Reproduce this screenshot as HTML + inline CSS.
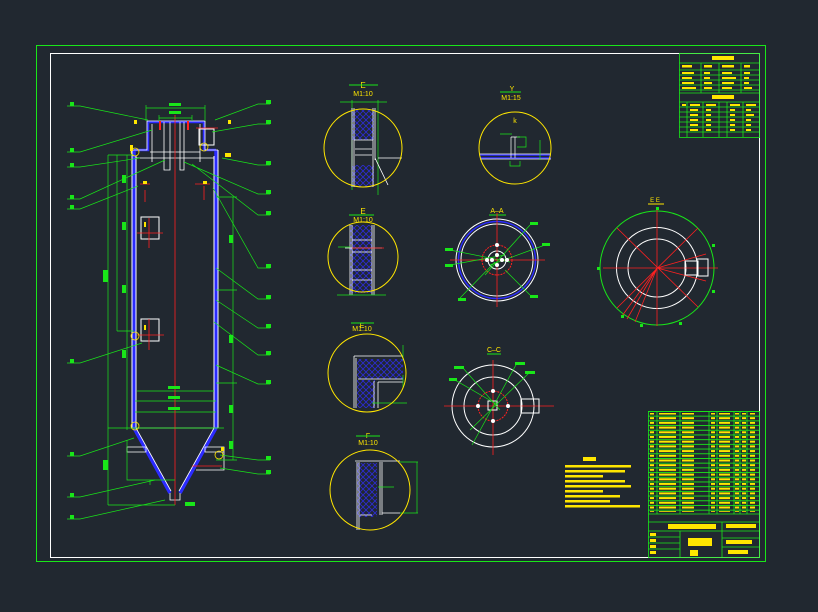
<!DOCTYPE html>
<html><head><meta charset="utf-8"><style>
html,body{margin:0;padding:0;background:#212830;}
svg{display:block;font-family:"Liberation Sans","Noto Sans CJK SC",sans-serif;}
</style></head><body>
<svg width="818" height="612" viewBox="0 0 818 612" xmlns="http://www.w3.org/2000/svg">
<defs>
<pattern id="rows" width="10" height="4.7" patternUnits="userSpaceOnUse" y="411"><rect width="10" height="0.9" fill="#19e619"/></pattern>
<pattern id="ytxt" width="10" height="4.7" patternUnits="userSpaceOnUse" y="412.5"><rect width="10" height="2" fill="#ffe600"/></pattern>
<pattern id="hatch" width="6" height="6" patternUnits="userSpaceOnUse"><path d="M0 0L6 6M6 0L0 6" stroke="#2b2bd6" stroke-width="0.8"/></pattern>
</defs>
<rect width="818" height="612" fill="#212830"/>
<rect x="36.5" y="45.5" width="729" height="516" fill="none" stroke="#19e619" stroke-width="1"/>
<rect x="50.5" y="53.5" width="709" height="504" fill="none" stroke="#fff" stroke-width="1"/>

<g fill="none">
<path d="M134 150 V428 M216 150 V428" stroke="#2b2bff" stroke-width="3.5"/>
<path d="M132 150 V428 M136 156 V428 M214 156 V428 M218 150 V428" stroke="#fff" stroke-width="1"/>
<path d="M134 150 H148 V122 H204 V150 H216" stroke="#2b2bff" stroke-width="2.5"/>
<path d="M132 150 H147 V121 H205 V150 H218 M136 158 H214" stroke="#fff" stroke-width="0.8"/>
<path d="M164 122 V170 H170 V122 M180 122 V170 H184 V122 M152 124 V162 M200 124 V162 M150 152 H200" stroke="#fff" stroke-width="0.8"/>
<rect x="199" y="129" width="15" height="16" stroke="#fff"/>
<path d="M134 428 L170 493 M216 428 L180 493" stroke="#2b2bff" stroke-width="3.5"/>
<path d="M136 428 L171 491 M214 428 L179 491 M133 428 H218 M170 493 V500 H180 V493" stroke="#fff" stroke-width="0.8"/>
<path d="M127 447 H146 V452 H127 Z M205 447 H224 V452 H205 Z M224 452 V470 H196" stroke="#fff" stroke-width="0.8"/>
<path d="M137 391 H214 M135 401 H216 M135 412 H216" stroke="#19e619" stroke-width="0.8"/>
<rect x="141" y="217" width="18" height="22" stroke="#fff"/>
<rect x="141" y="319" width="18" height="22" stroke="#fff"/>
<path d="M175 115 V505 M137 233 H163 M137 335 H164 M140 184 H150 M195 184 H210 M196 128 H218 M192 466 H222" stroke="#ff2020" stroke-width="0.8"/>
<path d="M149 218 V248 M149 319 V350 M145 190 V202 M204 186 V200" stroke="#ff2020" stroke-width="0.8"/>
<path d="M160 121 V130 M188 121 V130" stroke="#ff2020" stroke-width="2"/>
<path d="M146 105 V121 M205 105 V121 M146 108 H205 M159 115 V121 M192 115 V121 M159 118 H192" stroke="#19e619" stroke-width="0.7"/>
<path d="M108 155 V505 M117 155 V331 M127 155 V430 M108 155 H134 M108 505 H175 M117 331 H134 M108 428 H224" stroke="#19e619" stroke-width="0.7"/>
<path d="M233 197 V460 M216 197 H237 M216 290 H237 M216 383 H237 M216 460 H237" stroke="#19e619" stroke-width="0.7"/>
<path d="M127 440 V480 H175 M150 480 V485" stroke="#19e619" stroke-width="0.7"/>
<path d="M67 106 H80 L148 120 M67 152 H80 L152 130 M67 167 H80 L140 158 M67 199 H80 L165 160 M67 209 H80 L138 186 M67 363 H80 L142 343 M67 456 H80 L134 438 M67 497 H80 L155 480 M67 519 H80 L165 500" stroke="#19e619" stroke-width="0.7"/>
<path d="M270 104 H258 L215 120 M270 124 H258 L212 132 M270 165 H258 L222 158 M270 194 H258 L184 162 M270 215 H258 L192 164 M270 268 H258 L213 188 M270 299 H258 L216 268 M270 328 H258 L216 300 M270 355 H258 L214 322 M270 384 H258 L216 365 M270 460 H258 L220 455 M270 474 H258 L220 468" stroke="#19e619" stroke-width="0.7"/>
</g>
<g fill="#19e619">
<rect x="70" y="102" width="4" height="4"/><rect x="70" y="148" width="4" height="4"/><rect x="70" y="163" width="4" height="4"/><rect x="70" y="195" width="4" height="4"/><rect x="70" y="205" width="4" height="4"/><rect x="70" y="359" width="4" height="4"/><rect x="70" y="452" width="4" height="4"/><rect x="70" y="493" width="4" height="4"/><rect x="70" y="515" width="4" height="4"/>
<rect x="266" y="100" width="5" height="4"/><rect x="266" y="120" width="5" height="4"/><rect x="266" y="161" width="5" height="4"/><rect x="266" y="190" width="5" height="4"/><rect x="266" y="211" width="5" height="4"/><rect x="266" y="264" width="5" height="4"/><rect x="266" y="295" width="5" height="4"/><rect x="266" y="324" width="5" height="4"/><rect x="266" y="351" width="5" height="4"/><rect x="266" y="380" width="5" height="4"/><rect x="266" y="456" width="5" height="4"/><rect x="266" y="470" width="5" height="4"/>
<rect x="169" y="103" width="12" height="3"/><rect x="169" y="111" width="12" height="3"/><rect x="168" y="386" width="12" height="3"/><rect x="168" y="396" width="12" height="3"/><rect x="168" y="407" width="12" height="3"/>
<rect x="103" y="270" width="5" height="12"/><rect x="122" y="175" width="4" height="8"/><rect x="122" y="222" width="4" height="8"/><rect x="122" y="285" width="4" height="8"/><rect x="122" y="350" width="4" height="8"/><rect x="229" y="235" width="4" height="8"/><rect x="229" y="335" width="4" height="8"/><rect x="229" y="405" width="4" height="8"/><rect x="229" y="441" width="4" height="8"/><rect x="103" y="460" width="5" height="10"/><rect x="185" y="502" width="10" height="4"/>
</g>
<g fill="#ffe600"><rect x="130" y="145" width="3" height="6"/><rect x="143" y="181" width="4" height="3"/><rect x="203" y="181" width="4" height="3"/><rect x="144" y="222" width="2" height="5"/><rect x="144" y="325" width="2" height="5"/><rect x="225" y="153" width="6" height="4"/><rect x="221" y="447" width="3" height="4"/><rect x="134" y="120" width="3" height="4"/><rect x="228" y="120" width="3" height="4"/></g>
<g fill="none" stroke="#ffe600" stroke-width="0.8"><circle cx="135" cy="152" r="4"/><circle cx="204" cy="147" r="4"/><circle cx="135" cy="336" r="4"/><circle cx="135" cy="426" r="4"/><circle cx="219" cy="455" r="4"/></g>

<g fill="none">
<text x="363" y="88" fill="#ffe600" font-size="8" text-anchor="middle">E</text>
<path d="M349 85 H378" stroke="#19e619"/>
<text x="363" y="96" fill="#ffe600" font-size="7" text-anchor="middle">M1:10</text>
<path d="M340 102 H387 M352 100 V190 M378 100 V195" stroke="#19e619" stroke-width="0.7"/>
<rect x="352" y="110" width="22" height="30" fill="url(#hatch)"/>
<rect x="352" y="165" width="22" height="22" fill="url(#hatch)"/>
<path d="M352 108 V187 M354 108 V187 M373 108 V187 M375 108 V160 M354 140 H373 M355 149 H372 M355 155 H372 M375 158 L388 185 M378 158 H402" stroke="#fff" stroke-width="0.8"/>
<circle cx="363" cy="148" r="39" stroke="#ffe600"/>
</g>
<g fill="none">
<text x="512" y="91" fill="#ffe600" font-size="7" text-anchor="middle">Y</text>
<path d="M500 92 H521" stroke="#19e619"/>
<text x="511" y="100" fill="#ffe600" font-size="7" text-anchor="middle">M1:15</text>
<text x="515" y="123" fill="#ffe600" font-size="7" text-anchor="middle">k</text>
<path d="M480 155 H551 M480 158 H551" stroke="#2b2bff" stroke-width="1.5"/>
<path d="M480 154 H551 M480 159 H551 M511 137 V158 M515 137 V158 M511 137 H520" stroke="#fff" stroke-width="0.7"/>
<path d="M500 134 H512 M517 137 H526 V147 H517 M510 161 V166 H520 V161 M540 140 V160" stroke="#19e619" stroke-width="0.7"/>
<circle cx="515" cy="148" r="36" stroke="#ffe600"/>
</g>
<g fill="none">
<text x="363" y="214" fill="#ffe600" font-size="8" text-anchor="middle">E</text>
<path d="M349 215 H374" stroke="#19e619"/>
<text x="363" y="222" fill="#ffe600" font-size="7" text-anchor="middle">M1:10</text>
<rect x="350" y="225" width="22" height="68" fill="url(#hatch)"/>
<path d="M350 225 V295 M352 225 V295 M372 225 V295 M374 225 V295 M352 240 H372 M352 252 H372 M352 270 H372 M352 280 H372 M345 248 H382" stroke="#fff" stroke-width="0.8"/>
<path d="M352 248 H384" stroke="#ff2020" stroke-width="0.8"/>
<path d="M337 295 H386 M338 247 H350" stroke="#19e619" stroke-width="0.7"/>
<circle cx="363" cy="257" r="35" stroke="#ffe600"/>
</g>
<g fill="none">
<text x="497" y="213" fill="#ffe600" font-size="7" text-anchor="middle">A–A</text>
<path d="M489 215 H506" stroke="#19e619"/>
<circle cx="497" cy="260" r="41" stroke="#fff"/>
<circle cx="497" cy="260" r="38.5" stroke="#2b2bff" stroke-width="1.5"/>
<circle cx="497" cy="260" r="36" stroke="#fff"/>
<circle cx="497" cy="260" r="15" stroke="#ff2020" stroke-dasharray="2 1"/>
<circle cx="497" cy="260" r="9" stroke="#fff"/>
<path d="M450 260 H545 M497 213 V307" stroke="#ff2020" stroke-width="0.8"/>
<path d="M450 250 L510 262 M450 265 L505 255 M530 225 L485 275 M545 245 L490 265 M530 295 L505 270 M460 298 L495 262" stroke="#19e619" stroke-width="0.7"/>
</g>
<g fill="#fff"><circle cx="497" cy="255" r="2"/><circle cx="497" cy="265" r="2"/><circle cx="492" cy="260" r="2"/><circle cx="502" cy="260" r="2"/><circle cx="497" cy="245" r="2"/><circle cx="487" cy="260" r="2"/><circle cx="507" cy="260" r="2"/></g>
<g fill="#19e619"><rect x="445" y="248" width="8" height="3"/><rect x="445" y="264" width="8" height="3"/><rect x="530" y="222" width="8" height="3"/><rect x="542" y="243" width="8" height="3"/><rect x="530" y="295" width="8" height="3"/><rect x="458" y="298" width="8" height="3"/></g>

<g fill="none">
<text x="655" y="202" fill="#ffe600" font-size="6" text-anchor="middle">E E</text>
<path d="M648 204 H664" stroke="#ffe600"/>
<circle cx="657" cy="268" r="57" stroke="#19e619"/>
<circle cx="657" cy="268" r="40.5" stroke="#fff"/>
<circle cx="657" cy="268" r="29" stroke="#fff"/>
<path d="M603 268 H718 M657 210 V326 M617 228 L698 307 M698 228 L617 308 M657 268 L706 254 M657 268 L706 281 M657 268 L622 316 M657 268 L627 319 M657 268 L635 322" stroke="#ff2020" stroke-width="0.8"/>
<rect x="685" y="261" width="13" height="14" stroke="#fff"/><rect x="697" y="259" width="11" height="17" stroke="#fff"/>
</g>
<g fill="#19e619"><rect x="656" y="207" width="3" height="3"/><rect x="597" y="267" width="3" height="3"/><rect x="712" y="244" width="3" height="3"/><rect x="712" y="290" width="3" height="3"/><rect x="621" y="315" width="3" height="3"/><rect x="640" y="324" width="3" height="3"/><rect x="679" y="322" width="3" height="3"/></g>

<g fill="none">
<text x="362" y="328" fill="#ffe600" font-size="7" text-anchor="middle">E</text>
<path d="M351 323 H374" stroke="#19e619"/>
<text x="362" y="331" fill="#ffe600" font-size="7" text-anchor="middle">M1:10</text>
<rect x="357" y="359" width="46" height="20" fill="url(#hatch)"/>
<rect x="357" y="380" width="18" height="28" fill="url(#hatch)"/>
<path d="M354 356 H403 M356 358 V408 M354 356 V408 M358 379 H403 M378 382 V408 M378 382 H403 M374 381 V408" stroke="#fff" stroke-width="0.8"/>
<path d="M403 345 V360 M403 375 V388 M372 403 H407" stroke="#19e619" stroke-width="0.7"/>
<circle cx="367" cy="373" r="39" stroke="#ffe600"/>
</g>
<g fill="none">
<text x="494" y="352" fill="#ffe600" font-size="7" text-anchor="middle">C–C</text>
<path d="M487 354 H501" stroke="#19e619"/>
<circle cx="493" cy="406" r="41" stroke="#fff"/>
<circle cx="493" cy="406" r="29" stroke="#fff"/>
<circle cx="493" cy="406" r="15" stroke="#ff2020" stroke-dasharray="2 1"/>
<path d="M444 406 H554 M493 360 V455" stroke="#ff2020" stroke-width="0.8"/>
<rect x="521" y="399" width="18" height="14" stroke="#fff"/>
<rect x="488" y="401" width="9" height="9" stroke="#fff"/>
<path d="M463 368 L500 410 M455 380 L498 405 M517 363 L472 445 M530 372 L470 430" stroke="#19e619" stroke-width="0.7"/>
</g>
<g fill="#fff"><circle cx="493" cy="391" r="2"/><circle cx="493" cy="421" r="2"/><circle cx="478" cy="406" r="2"/><circle cx="508" cy="406" r="2"/></g>
<g fill="#19e619"><rect x="454" y="366" width="10" height="3"/><rect x="449" y="378" width="8" height="3"/><rect x="515" y="362" width="10" height="3"/><rect x="525" y="371" width="10" height="3"/></g>

<g fill="none">
<text x="368" y="438" fill="#ffe600" font-size="7" text-anchor="middle">F</text>
<path d="M356 436 H380" stroke="#19e619"/>
<text x="368" y="445" fill="#ffe600" font-size="7" text-anchor="middle">M1:10</text>
<rect x="357" y="463" width="20" height="54" fill="url(#hatch)"/>
<path d="M355 461 H400 M357 462 V530 M359 462 V530 M380 462 V515 M382 462 V515 M382 513 H400 M360 515 H372" stroke="#fff" stroke-width="0.8"/>
<path d="M400 462 H418 M400 513 H418 M417 462 V513 M378 487 H394" stroke="#19e619" stroke-width="0.7"/>
<circle cx="370" cy="490" r="40" stroke="#ffe600"/>
</g>

<g fill="#ffe600">
<rect x="583" y="457" width="13" height="4"/>
<rect x="565" y="465" width="66" height="2.5"/><rect x="565" y="470" width="60" height="2.5"/><rect x="565" y="475" width="38" height="2.5"/><rect x="565" y="480" width="60" height="2.5"/><rect x="565" y="485" width="66" height="2.5"/><rect x="565" y="490" width="38" height="2.5"/><rect x="565" y="495" width="55" height="2.5"/><rect x="565" y="500" width="45" height="2.5"/><rect x="565" y="505" width="75" height="2.5"/>
</g>

<g fill="none" stroke="#19e619" stroke-width="0.8">
<rect x="679.5" y="53.5" width="80" height="84"/>
<path d="M679 63 H759 M679 70 H759 M679 75 H759 M679 80 H759 M679 85 H759 M679 90 H759 M679 93 H759 M679 102 H759 M679 107 H759 M679 112 H759 M679 117 H759 M679 122 H759 M679 127 H759 M679 132 H759"/>
<path d="M701 63 V93 M719 63 V93 M741 63 V93 M687 102 V137 M703 102 V137 M719 102 V137 M727 102 V137 M743 102 V137"/>
</g>
<g fill="#ffe600"><rect x="712" y="56" width="22" height="4"/><rect x="712" y="95" width="22" height="4"/>
<rect x="682" y="65" width="10" height="2.5"/><rect x="704" y="65" width="8" height="2.5"/><rect x="722" y="65" width="12" height="2.5"/><rect x="744" y="65" width="6" height="2.5"/>
<rect x="682" y="72" width="12" height="2"/><rect x="704" y="72" width="6" height="2"/><rect x="722" y="72" width="10" height="2"/><rect x="744" y="72" width="6" height="2"/>
<rect x="682" y="77" width="10" height="2"/><rect x="704" y="77" width="6" height="2"/><rect x="722" y="77" width="14" height="2"/><rect x="744" y="77" width="5" height="2"/>
<rect x="682" y="82" width="12" height="2"/><rect x="704" y="82" width="8" height="2"/><rect x="722" y="82" width="12" height="2"/><rect x="744" y="82" width="5" height="2"/>
<rect x="682" y="87" width="14" height="2"/><rect x="704" y="87" width="8" height="2"/><rect x="722" y="87" width="10" height="2"/><rect x="744" y="87" width="8" height="2"/>
<rect x="682" y="104" width="4" height="2"/><rect x="690" y="104" width="10" height="2"/><rect x="706" y="104" width="10" height="2"/><rect x="730" y="104" width="10" height="2"/><rect x="746" y="104" width="10" height="2"/>
<rect x="690" y="109" width="8" height="2"/><rect x="706" y="109" width="5" height="2"/><rect x="730" y="109" width="5" height="2"/><rect x="746" y="109" width="5" height="2"/>
<rect x="690" y="114" width="8" height="2"/><rect x="706" y="114" width="5" height="2"/><rect x="730" y="114" width="5" height="2"/><rect x="746" y="114" width="8" height="2"/>
<rect x="690" y="119" width="8" height="2"/><rect x="706" y="119" width="5" height="2"/><rect x="730" y="119" width="5" height="2"/><rect x="746" y="119" width="5" height="2"/>
<rect x="690" y="124" width="8" height="2"/><rect x="706" y="124" width="5" height="2"/><rect x="730" y="124" width="5" height="2"/><rect x="746" y="124" width="5" height="2"/>
<rect x="690" y="129" width="8" height="2"/><rect x="706" y="129" width="5" height="2"/><rect x="730" y="129" width="5" height="2"/><rect x="746" y="129" width="5" height="2"/>
</g>

<rect x="648" y="411" width="111" height="103" fill="url(#rows)"/>
<g fill="url(#ytxt)">
<rect x="650" y="413" width="4" height="99"/>
<rect x="659" y="413" width="17" height="99"/>
<rect x="682" y="413" width="12" height="99"/>
<rect x="711" y="413" width="4" height="99"/>
<rect x="719" y="413" width="11" height="99"/>
<rect x="735" y="413" width="4" height="99"/>
<rect x="742" y="413" width="4" height="99"/>
<rect x="750" y="413" width="5" height="99"/>
</g>
<g fill="none" stroke="#19e619" stroke-width="0.8">
<rect x="648.5" y="411.5" width="111" height="146"/>
<path d="M657 411 V514 M680 411 V514 M709 411 V514 M717 411 V514 M734 411 V514 M740 411 V514 M747 411 V514"/>
<path d="M648 514 H759 M648 522 H759 M648 531 H759 M680 531 V557 M722 522 V557 M648 537 H680 M648 543 H680 M648 549 H680 M722 538 H759 M722 547 H759"/>
</g>
<g fill="#ffe600">
<rect x="668" y="524" width="48" height="5"/>
<rect x="688" y="538" width="24" height="8"/>
<rect x="690" y="550" width="8" height="6"/>
<rect x="726" y="524" width="30" height="4"/><rect x="726" y="540" width="26" height="4"/><rect x="728" y="550" width="20" height="4"/>
<rect x="650" y="533" width="6" height="3"/><rect x="650" y="539" width="6" height="3"/><rect x="650" y="545" width="6" height="3"/><rect x="650" y="551" width="6" height="3"/>
</g>
</svg>
</body></html>
